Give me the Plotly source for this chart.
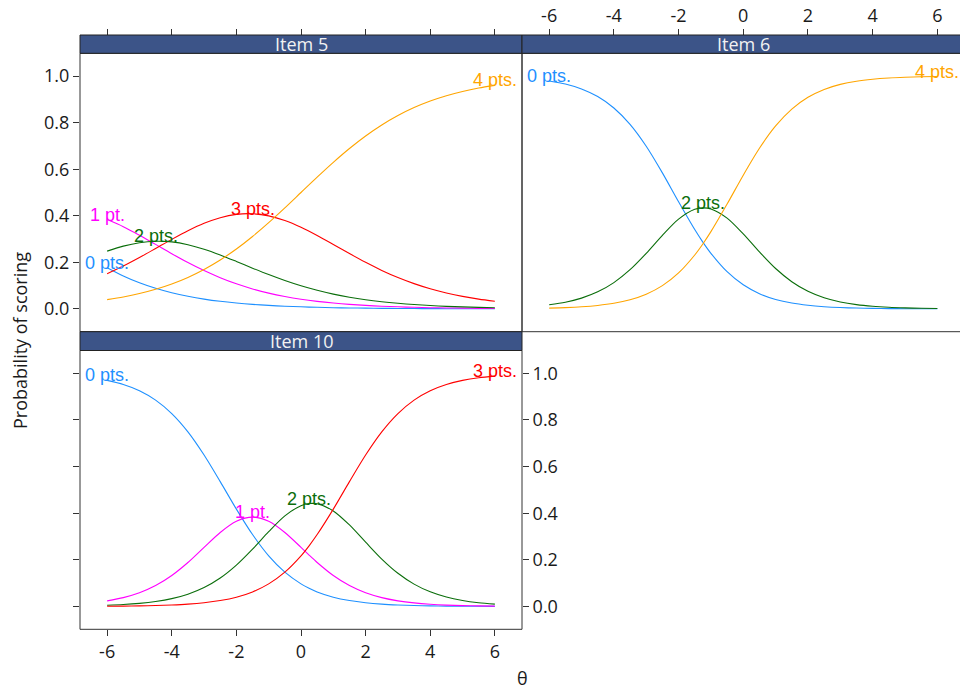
import plotly.graph_objects as go

# ---- category response curves (probability of scoring) ----
theta_5 = [-6, -5.5, -5, -4.5, -4, -3.5, -3, -2.5, -2, -1.5, -1, -0.5, 0,
           0.5, 1, 1.5, 2, 2.5, 3, 3.5, 4, 4.5, 5, 5.5, 6]
item5_0 = [0.1770, 0.1416, 0.1123, 0.0885, 0.0693, 0.0541, 0.0420, 0.0325, 0.0252,
           0.0194, 0.0150, 0.0115, 0.0089, 0.0068, 0.0052, 0.0040, 0.0031, 0.0024,
           0.0018, 0.0014, 0.0011, 0.0008, 0.0006, 0.0005, 0.0004]
item5_1 = [0.3836, 0.3531, 0.3166, 0.2771, 0.2372, 0.1992, 0.1645, 0.1339, 0.1076,
           0.0858, 0.0677, 0.0532, 0.0415, 0.0323, 0.0251, 0.0194, 0.0150, 0.0115,
           0.0089, 0.0068, 0.0052, 0.0041, 0.0031, 0.0024, 0.0018]
item5_2 = [0.2481, 0.2696, 0.2844, 0.2906, 0.2878, 0.2758, 0.2565, 0.2317, 0.2038,
           0.1750, 0.1473, 0.1217, 0.0991, 0.0798, 0.0635, 0.0502, 0.0393, 0.0307,
           0.0239, 0.0186, 0.0144, 0.0110, 0.0086, 0.0065, 0.0051]
item5_3 = [0.1514, 0.1843, 0.2207, 0.2595, 0.2986, 0.3356, 0.3676, 0.3919, 0.4061,
           0.4087, 0.3995, 0.3795, 0.3505, 0.3152, 0.2767, 0.2375, 0.1999, 0.1654,
           0.1348, 0.1085, 0.0864, 0.0684, 0.0537, 0.0420, 0.0326]
item5_4 = [0.0399, 0.0514, 0.0660, 0.0843, 0.1071, 0.1353, 0.1694, 0.2100, 0.2573,
           0.3111, 0.3705, 0.4341, 0.5000, 0.5659, 0.6295, 0.6889, 0.7427, 0.7900,
           0.8306, 0.8647, 0.8929, 0.9157, 0.9340, 0.9486, 0.9601]

theta_6 = [-6, -5.5, -5, -4.5, -4, -3.5, -3, -2.5, -2, -1.5, -1.25, -1, -0.5, 0,
           0.5, 1, 1.5, 2, 2.5, 3, 3.5, 4, 4.5, 5, 5.5, 6]
item6_0 = [0.9790, 0.9658, 0.9448, 0.9121, 0.8630, 0.7925, 0.6985, 0.5842, 0.4601,
           0.3407, 0.2870, 0.2387, 0.1597, 0.1034, 0.0653, 0.0407, 0.0251, 0.0154,
           0.0094, 0.0057, 0.0035, 0.0021, 0.0013, 0.0008, 0.0005, 0.0003]
item6_2 = [0.0177, 0.0287, 0.0462, 0.0731, 0.1129, 0.1683, 0.2385, 0.3160, 0.3854,
           0.4278, 0.4341, 0.4295, 0.3901, 0.3222, 0.2447, 0.1735, 0.1168, 0.0757,
           0.0479, 0.0299, 0.0184, 0.0113, 0.0069, 0.0042, 0.0025, 0.0015]
item6_4 = [0.0033, 0.0055, 0.0090, 0.0148, 0.0241, 0.0392, 0.0630, 0.0998, 0.1545,
           0.2315, 0.2789, 0.3318, 0.4502, 0.5744, 0.6900, 0.7858, 0.8581, 0.9089,
           0.9427, 0.9644, 0.9781, 0.9866, 0.9918, 0.9950, 0.9970, 0.9982]

theta_10 = [-6, -5.5, -5, -4.5, -4, -3.5, -3, -2.5, -2, -1.5, -1, -0.5, 0, 0.25,
            0.5, 1, 1.5, 2, 2.5, 3, 3.5, 4, 4.5, 5, 5.5, 6]
item10_0 = [0.9697, 0.9522, 0.9254, 0.8852, 0.8274, 0.7489, 0.6496, 0.5356, 0.4176,
            0.3084, 0.2171, 0.1471, 0.0969, 0.0780, 0.0625, 0.0398, 0.0252, 0.0158,
            0.0099, 0.0062, 0.0038, 0.0024, 0.0015, 0.0009, 0.0006, 0.0004]
item10_1 = [0.0241, 0.0379, 0.0588, 0.0896, 0.1328, 0.1886, 0.2535, 0.3173, 0.3653,
            0.3832, 0.3653, 0.3173, 0.2535, 0.2204, 0.1886, 0.1328, 0.0896, 0.0588,
            0.0379, 0.0241, 0.0152, 0.0095, 0.0059, 0.0037, 0.0023, 0.0014]
item10_2 = [0.0053, 0.0084, 0.0134, 0.0214, 0.0336, 0.0526, 0.0811, 0.1219, 0.1773,
            0.2459, 0.3207, 0.3885, 0.4325, 0.4414, 0.4405, 0.4098, 0.3496, 0.2758,
            0.2033, 0.1423, 0.0958, 0.0627, 0.0404, 0.0257, 0.0161, 0.0101]
item10_3 = [0.0009, 0.0015, 0.0024, 0.0038, 0.0062, 0.0099, 0.0158, 0.0252, 0.0398,
            0.0625, 0.0969, 0.1471, 0.2171, 0.2602, 0.3084, 0.4176, 0.5356, 0.6496,
            0.7489, 0.8274, 0.8852, 0.9254, 0.9522, 0.9697, 0.9810, 0.9881]

x_ticks = [-6, -4, -2, 0, 2, 4, 6]
x_tick_text = ["-6", "-4", "-2", "0", "2", "4", "6"]
y_ticks = [0.0, 0.2, 0.4, 0.6, 0.8, 1.0]
y_tick_text = ["0.0", "0.2", "0.4", "0.6", "0.8", "1.0"]

COLORS = {"0 pts.": "#1E90FF", "1 pt.": "#FF00FF", "2 pts.": "#0B6E0B",
          "3 pts.": "#FF0000", "4 pts.": "#FFA500"}

panels = [
    ("Item 5", "x", "y", theta_5,
     [("0 pts.", item5_0), ("1 pt.", item5_1), ("2 pts.", item5_2),
      ("3 pts.", item5_3), ("4 pts.", item5_4)]),
    ("Item 6", "x2", "y2", theta_6,
     [("0 pts.", item6_0), ("2 pts.", item6_2), ("4 pts.", item6_4)]),
    ("Item 10", "x3", "y3", theta_10,
     [("0 pts.", item10_0), ("1 pt.", item10_1), ("2 pts.", item10_2),
      ("3 pts.", item10_3)]),
]

# ---- page geometry (pixels) ----
W, H = 960, 690
def fx(px):
    return px / W
def fy(py):
    return 1 - py / H

LEFT, MID, RIGHT, RIGHT_FULL = 80, 522, 960, 964
TOP_STRIP, TOP_PLOT, ROW_SPLIT = 35, 53.3, 331.7
BOT_PLOT, BOT_END = 350.5, 629.3
XR_LEFT = [-6.84, 6.84]
XR_RIGHT = [-6.84, 6.70]
YR = [-0.098, 1.098]

TICK_FONT = dict(family="Open Sans", size=18, color="#1a1a1a")
LABEL_FONT = "Liberation Sans"
AX_COL = "#333333"
STRIP_COL = "#3C5488"

fig = go.Figure()

annotations = []
for title, xa, ya, theta, curves in panels:
    for name, vals in curves:
        fig.add_trace(go.Scatter(
            x=theta, y=vals, mode="lines", xaxis=xa, yaxis=ya,
            line=dict(color=COLORS[name], width=1.1, shape="spline", smoothing=0.8),
            showlegend=False, hoverinfo="skip"))
        # category label sits just above the curve's highest point
        k = max(range(len(vals)), key=lambda i: vals[i])
        annotations.append(dict(
            x=theta[k], y=vals[k], xref=xa, yref=ya, text=name, showarrow=False,
            xanchor="center", yanchor="middle", yshift=5,
            font=dict(family=LABEL_FONT, size=18, color=COLORS[name])))

common_x = dict(range=XR_LEFT, tickvals=x_ticks, ticktext=x_tick_text,
                ticks="outside", ticklen=6, tickcolor=AX_COL, tickwidth=1,
                showgrid=False, zeroline=False, showline=False, tickfont=TICK_FONT,
                fixedrange=True)
common_y = dict(range=YR, tickvals=y_ticks, ticktext=y_tick_text, ticks="outside",
                ticklen=6, tickcolor=AX_COL, tickwidth=1, showgrid=False,
                zeroline=False, showline=False, tickfont=TICK_FONT, fixedrange=True)

fig.update_layout(
    width=W, height=H, margin=dict(l=0, r=0, t=0, b=0),
    paper_bgcolor="white", plot_bgcolor="rgba(0,0,0,0)",
    xaxis=dict(common_x, domain=[fx(LEFT), fx(MID)], anchor="free",
               position=fy(TOP_STRIP), side="top", showticklabels=False),
    yaxis=dict(common_y, domain=[fy(ROW_SPLIT), fy(TOP_PLOT)], anchor="x", side="left"),
    xaxis2=dict(common_x, range=XR_RIGHT, domain=[fx(MID), fx(RIGHT)], anchor="free",
                position=fy(TOP_STRIP), side="top", showticklabels=True),
    yaxis2=dict(common_y, domain=[fy(ROW_SPLIT), fy(TOP_PLOT)], anchor="x2",
                ticks="", showticklabels=False),
    xaxis3=dict(common_x, domain=[fx(LEFT), fx(MID)], anchor="y3", side="bottom",
                showticklabels=True),
    # ticks on both sides of the lower panel, labels on the right
    yaxis3=dict(common_y, domain=[fy(BOT_END), fy(BOT_PLOT)], anchor="x3",
                side="right", mirror="ticks", showticklabels=True),
)

shapes = []
# panel frames
for x0, x1, y0, y1 in [(LEFT, MID, TOP_PLOT, ROW_SPLIT),
                       (MID, RIGHT_FULL, TOP_PLOT, ROW_SPLIT),
                       (LEFT, MID, BOT_PLOT, BOT_END)]:
    shapes.append(dict(type="rect", xref="paper", yref="paper",
                       x0=fx(x0), x1=fx(x1), y0=fy(y1), y1=fy(y0),
                       line=dict(color=AX_COL, width=1), fillcolor="rgba(0,0,0,0)",
                       layer="above"))
# strips
strips = [("Item 5", LEFT, MID, TOP_STRIP, TOP_PLOT),
          ("Item 6", MID, RIGHT_FULL, TOP_STRIP, TOP_PLOT),
          ("Item 10", LEFT, MID, ROW_SPLIT, BOT_PLOT)]
for text, x0, x1, y0, y1 in strips:
    shapes.append(dict(type="rect", xref="paper", yref="paper",
                       x0=fx(x0), x1=fx(x1), y0=fy(y1), y1=fy(y0),
                       line=dict(color="#222222", width=1), fillcolor=STRIP_COL,
                       layer="above"))
    annotations.append(dict(
        x=fx((x0 + x1) / 2), y=fy((y0 + y1) / 2), xref="paper", yref="paper",
        text=text, showarrow=False, xanchor="center", yanchor="middle",
        font=dict(family="Open Sans", size=18, color="#F2F2F2")))

annotations.append(dict(x=fx(20), y=fy(341), xref="paper", yref="paper",
                        text="Probability of scoring", textangle=-90, showarrow=False,
                        xanchor="center", yanchor="middle",
                        font=dict(family="Open Sans", size=18, color="#1a1a1a")))
annotations.append(dict(x=fx(522), y=fy(678), xref="paper", yref="paper",
                        text="θ", showarrow=False, xanchor="center", yanchor="middle",
                        font=dict(family="Open Sans", size=18, color="#1a1a1a")))

fig.update_layout(shapes=shapes, annotations=annotations)
fig.write_html("out.html")
